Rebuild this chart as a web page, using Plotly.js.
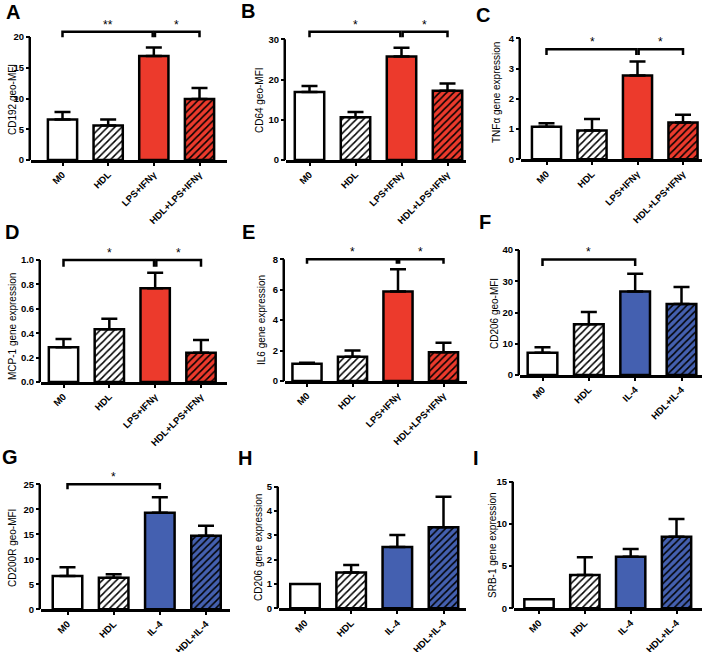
<!DOCTYPE html>
<html><head><meta charset="utf-8">
<script src="https://cdn.plot.ly/plotly-3.0.1.min.js"></script>
<style>html,body{margin:0;padding:0;background:#fff}#chart{width:708px;height:652px}</style>
</head><body><div id="chart"></div>
<script>
// ---------- DATA ----------
const categoriesM1 = ['M0', 'HDL', 'LPS+IFNγ', 'HDL+LPS+IFNγ'];
const categoriesM2 = ['M0', 'HDL', 'IL-4', 'HDL+IL-4'];

const valuesA = [6.6, 5.6, 16.9, 9.9];     const errorsA = [1.2, 1.0, 1.4, 1.8];
const valuesB = [16.9, 10.6, 25.7, 17.2];  const errorsB = [1.5, 1.3, 2.2, 1.8];
const valuesC = [1.08, 0.95, 2.77, 1.22];  const errorsC = [0.11, 0.38, 0.46, 0.25];
const valuesD = [0.284, 0.432, 0.768, 0.24]; const errorsD = [0.068, 0.087, 0.128, 0.104];
const valuesE = [1.14, 1.6, 5.88, 1.89];   const errorsE = [0.06, 0.4, 1.47, 0.63];
const valuesF = [7.1, 16.2, 26.7, 22.7];   const errorsF = [1.8, 4.0, 5.7, 5.5];
const valuesG = [6.67, 6.33, 19.3, 14.7];  const errorsG = [1.73, 0.67, 3.1, 2.0];
const valuesH = [1.0, 1.47, 2.52, 3.33];   const errorsH = [0, 0.31, 0.49, 1.26];
const valuesI = [1.07, 3.95, 6.12, 8.49];  const errorsI = [0, 2.09, 0.91, 2.09];

const ticksA = [0, 5, 10, 15, 20];
const ticksB = [0, 10, 20, 30];
const ticksC = [0, 1, 2, 3, 4];
const ticksD = [0, 0.2, 0.4, 0.6, 0.8, 1.0];
const tickLabelsD = ['0.0', '0.2', '0.4', '0.6', '0.8', '1.0'];
const ticksE = [0, 2, 4, 6, 8];
const ticksF = [0, 10, 20, 30, 40];
const ticksG = [0, 5, 10, 15, 20, 25];
const ticksH = [0, 1, 2, 3, 4, 5];
const ticksI = [0, 5, 10, 15];

const yTitles = ['CD192 geo-MFI', 'CD64 geo-MFI', 'TNFα gene expression',
                 'MCP-1 gene expression', 'IL6 gene expression', 'CD206 geo-MFI',
                 'CD200R geo-MFI', 'CD206 gene expression', 'SRB-1 gene expression'];
const panelLetters = ['A', 'B', 'C', 'D', 'E', 'F', 'G', 'H', 'I'];

// significance brackets: [from index, to index, label]; level: [bar height, leg bottom]
const sigA = [[0, 2, '**'], [2, 3, '*']]; const sigLevelA = [20.86, 19.95];
const sigB = [[0, 2, '*'], [2, 3, '*']];  const sigLevelB = [31.9, 30.5];
const sigC = [[0, 2, '*'], [2, 3, '*']];  const sigLevelC = [3.64, 3.45];
const sigD = [[0, 2, '*'], [2, 3, '*']];  const sigLevelD = [1.0, 0.945];
const sigE = [[0, 2, '*'], [2, 3, '*']];  const sigLevelE = [8.0, 7.7];
const sigF = [[0, 2, '*']];               const sigLevelF = [37.0, 34.9];
const sigG = [[0, 2, '*']];               const sigLevelG = [25.0, 24.0];

// ---------- STYLE / LAYOUT ----------
const W = 708, H = 652;
const FONT = 'Arial, "Liberation Sans", sans-serif';
const RED = '#EC3A2C', BLUE = '#4460B0';

const panels = [
  {cats: categoriesM1, vals: valuesA, errs: errorsA, ticks: ticksA, sig: sigA, lvl: sigLevelA, accent: RED,
   g: {ax0: 31, ax1: 227, c0: 62.5, c3: 199.5, y0: 160, yT: 37, top: 27}, tx: 12, ty: 100, lx: 13, ly: 12},
  {cats: categoriesM1, vals: valuesB, errs: errorsB, ticks: ticksB, sig: sigB, lvl: sigLevelB, accent: RED,
   g: {ax0: 286, ax1: 466, c0: 309.5, c3: 447.5, y0: 160, yT: 39.3, top: 27}, tx: 259, ty: 100, lx: 248, ly: 11},
  {cats: categoriesM1, vals: valuesC, errs: errorsC, ticks: ticksC, sig: sigC, lvl: sigLevelC, accent: RED,
   g: {ax0: 521, ax1: 702, c0: 546.5, c3: 683, y0: 159.3, yT: 38.3, top: 34}, tx: 497, ty: 93, lx: 483, ly: 15},
  {cats: categoriesM1, vals: valuesD, errs: errorsD, ticks: ticksD, tickText: tickLabelsD, sig: sigD, lvl: sigLevelD, accent: RED,
   g: {ax0: 41, ax1: 227, c0: 63.5, c3: 201, y0: 382, yT: 260, top: 255}, tx: 12, ty: 327, lx: 12, ly: 232},
  {cats: categoriesM1, vals: valuesE, errs: errorsE, ticks: ticksE, sig: sigE, lvl: sigLevelE, accent: RED,
   g: {ax0: 285, ax1: 467, c0: 307, c3: 443.5, y0: 381, yT: 259.3, top: 254}, tx: 261, ty: 320, lx: 248, ly: 232},
  {cats: categoriesM2, vals: valuesF, errs: errorsF, ticks: ticksF, sig: sigF, lvl: sigLevelF, accent: BLUE,
   g: {ax0: 520, ax1: 702, c0: 542.5, c3: 681.5, y0: 375, yT: 250, top: 246}, tx: 494, ty: 313, lx: 485, ly: 222},
  {cats: categoriesM2, vals: valuesG, errs: errorsG, ticks: ticksG, sig: sigG, lvl: sigLevelG, accent: BLUE,
   g: {ax0: 41, ax1: 230, c0: 67.5, c3: 206, y0: 609.3, yT: 484.3, top: 479}, tx: 12, ty: 548, lx: 10, ly: 457},
  {cats: categoriesM2, vals: valuesH, errs: errorsH, ticks: ticksH, sig: [], lvl: [0, 0], accent: BLUE,
   g: {ax0: 279, ax1: 466, c0: 305, c3: 443.5, y0: 608.3, yT: 486.7, top: 483}, tx: 258, ty: 548, lx: 245, ly: 458},
  {cats: categoriesM2, vals: valuesI, errs: errorsI, ticks: ticksI, sig: [], lvl: [0, 0], accent: BLUE,
   g: {ax0: 514, ax1: 702, c0: 539, c3: 676.5, y0: 608.3, yT: 481.7, top: 478}, tx: 492, ty: 545, lx: 476, ly: 458}
];

const data = [];
const layout = {
  width: W, height: H, margin: {l: 0, r: 0, t: 0, b: 0},
  paper_bgcolor: 'white', plot_bgcolor: 'rgba(0,0,0,0)', showlegend: false,
  barmode: 'overlay',
  font: {family: FONT, color: 'black'},
  shapes: [], annotations: []
};

panels.forEach((p, i) => {
  const n = i === 0 ? '' : String(i + 1);
  const xa = 'x' + n, ya = 'y' + n;
  const g = p.g;
  const step = (g.c3 - g.c0) / 3;
  const xr = [-(g.c0 - g.ax0) / step, 3 + (g.ax1 - g.c3) / step];
  const topTick = p.ticks[p.ticks.length - 1];
  const yExt = topTick * (g.y0 - g.top) / (g.y0 - g.yT);
  const idx = p.cats.map((c, k) => k);
  const fills = ['white', 'white', p.accent, p.accent];
  const hatched = [false, true, false, true];

  // one trace per bar so every bar keeps its own scalar fill and hatch colours
  idx.forEach((k) => {
    const marker = {color: fills[k], line: {color: 'black', width: 2.5}};
    if (hatched[k]) {
      marker.pattern = {shape: '/', fillmode: 'replace', fgcolor: 'black', bgcolor: fills[k],
                        fgopacity: 1, size: 5, solidity: 0.3};
    }
    data.push({
      type: 'bar', x: [k], y: [p.vals[k]], xaxis: xa, yaxis: ya, width: 0.64,
      name: p.cats[k], marker: marker,
      error_y: {type: 'data', symmetric: false, array: [p.errs[k]], arrayminus: [0],
                color: 'black', thickness: 2.5, width: 8, visible: p.errs[k] > 0},
      hoverinfo: 'skip'
    });
  });

  layout['xaxis' + n] = {
    domain: [g.ax0 / W, g.ax1 / W], anchor: ya, range: xr,
    tickmode: 'array', tickvals: idx, ticktext: p.cats, tickangle: -45,
    tickfont: {family: FONT, size: 9.5, weight: 'bold', color: 'black'},
    showline: true, linecolor: 'black', linewidth: 2.5,
    ticks: 'outside', ticklen: 3, tickwidth: 2, tickcolor: 'black',
    showgrid: false, zeroline: false, fixedrange: true
  };
  layout['yaxis' + n] = {
    domain: [1 - g.y0 / H, 1 - g.top / H], anchor: xa, range: [0, yExt],
    tickmode: 'array', tickvals: p.ticks, ticktext: p.tickText || p.ticks.map(String),
    tickfont: {family: FONT, size: 9.5, weight: 'bold', color: 'black'},
    showline: false, ticks: 'outside', ticklen: 4, tickwidth: 2, tickcolor: 'black',
    showgrid: false, zeroline: false, fixedrange: true
  };

  // y axis line from 0 to the top tick
  layout.shapes.push({type: 'line', xref: 'paper', yref: ya,
    x0: g.ax0 / W - 1.25 / W, x1: g.ax0 / W - 1.25 / W, y0: 0, y1: topTick,
    line: {color: 'black', width: 2.5}});

  // significance brackets
  p.sig.forEach((s) => {
    const shared = (k) => p.sig.filter(o => o !== s && (o[0] === k || o[1] === k)).length > 0;
    const a = s[0] + (shared(s[0]) ? 0.025 : 0);
    const b = s[1] - (shared(s[1]) ? 0.025 : 0);
    const yl = p.lvl[0], yb = p.lvl[1];
    layout.shapes.push({type: 'path', xref: xa, yref: ya,
      path: `M ${a},${yb} L ${a},${yl} L ${b},${yl} L ${b},${yb}`,
      line: {color: 'black', width: 2.5}});
    layout.annotations.push({xref: xa, yref: ya, x: (s[0] + s[1]) / 2, y: yl, text: s[2],
      showarrow: false, xanchor: 'center', yanchor: 'bottom', yshift: -2,
      font: {family: FONT, size: 12, color: 'black'}});
  });

  // y axis title
  layout.annotations.push({xref: 'paper', yref: 'paper', x: p.tx / W, y: 1 - p.ty / H,
    text: yTitles[i], textangle: -90, showarrow: false, xanchor: 'center', yanchor: 'middle',
    font: {family: FONT, size: 10, color: 'black'}});
  // panel letter
  layout.annotations.push({xref: 'paper', yref: 'paper', x: p.lx / W, y: 1 - p.ly / H,
    text: panelLetters[i], showarrow: false, xanchor: 'center', yanchor: 'middle',
    font: {family: FONT, size: 20, weight: 'bold', color: 'black'}});
});

Plotly.newPlot('chart', data, layout, {displayModeBar: false, staticPlot: true});
</script>
</body></html>
